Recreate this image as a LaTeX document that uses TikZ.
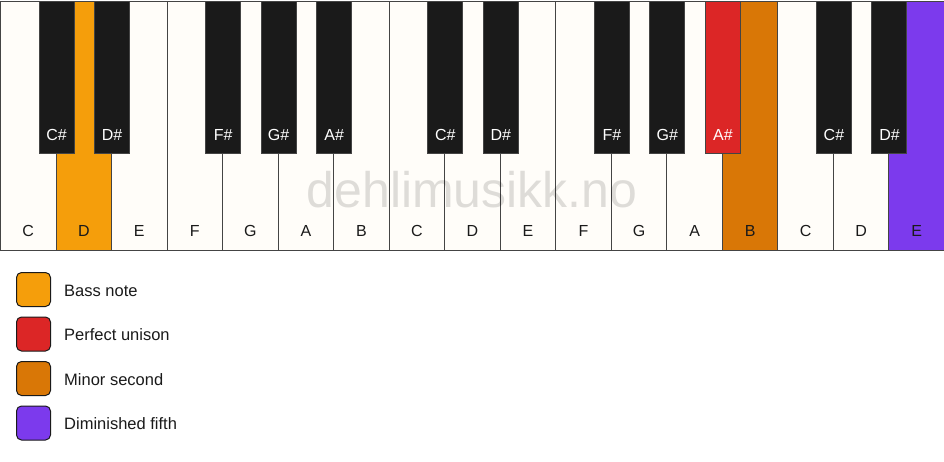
\documentclass[tikz,border=0pt]{standalone}
\usepackage{fontspec}
\setmainfont{Liberation Sans}
\usetikzlibrary{positioning}

\definecolor{keywhite}{HTML}{FFFDF9}
\definecolor{keyblack}{HTML}{1A1A1A}
\definecolor{keyline}{HTML}{444444}
\definecolor{bass}{HTML}{F59E0B}
\definecolor{unison}{HTML}{DC2626}
\definecolor{minsec}{HTML}{D97706}
\definecolor{dimfifth}{HTML}{7C3AED}

\begin{document}
\begin{tikzpicture}[
    x=1pt, y=-1pt,
    whitekey/.style={draw=keyline, line width=1pt, inner sep=0pt, minimum width=55.53pt, minimum height=249pt, anchor=north west},
    blackkey/.style={draw=keyline, line width=1pt, inner sep=0pt, minimum width=35pt, minimum height=152.5pt, anchor=north},
    keylabel/.style={font=\fontsize{16}{16}\selectfont, anchor=base},
    swatch/.style={draw=keyblack, line width=1pt, rounded corners=5pt, minimum size=34pt, inner sep=0pt, anchor=north west},
    legendtext/.style={font=\fontsize{16.5}{16.5}\selectfont, text=keyblack, inner sep=0pt, text height=13pt, text depth=0pt},
    ]
    \useasboundingbox (0,0) rectangle (944,461);
    \foreach \name/\col [
        count=\n,
        evaluate=\n as \x using (\n-1)*55.53,
    ] in {C/keywhite,D/bass,E/keywhite,F/keywhite,G/keywhite,A/keywhite,B/keywhite,C/keywhite,D/keywhite,E/keywhite,F/keywhite,G/keywhite,A/keywhite,B/minsec,C/keywhite,D/keywhite,E/dimfifth}{
            \node[whitekey, fill=\col] (w\n) at (\x,0.5) {};
            \node[keylabel, text=keyblack] (wl\n) at ([yshift=14pt]w\n.south) {\name};
        }
    \foreach \i/\name/\col [count=\n] in {1/C\#/keyblack,2/D\#/keyblack,4/F\#/keyblack,5/G\#/keyblack,6/A\#/keyblack,8/C\#/keyblack,9/D\#/keyblack,11/F\#/keyblack,12/G\#/keyblack,13/A\#/unison,15/C\#/keyblack,16/D\#/keyblack}{
            \node[blackkey, fill=\col] (b\n) at (w\i.north east) {};
            \node[keylabel, text=white] (bl\n) at ([yshift=14pt]b\n.south) {\name};
        }
    \node[font=\fontsize{50}{50}\selectfont, text=black, text opacity=0.13, anchor=base] (mark) at (472,207) {dehlimusikk.no};
    \foreach \txt/\col [
        count=\n,
        evaluate=\n as \y using 272+(\n-1)*44.5,
    ] in {Bass note/bass,Perfect unison/unison,Minor second/minsec,Diminished fifth/dimfifth}{
            \node[swatch, fill=\col] (s\n) at (16,\y) {};
            \node[legendtext, right=13pt of s\n] (t\n) {\txt};
        }
\end{tikzpicture}
\end{document}
